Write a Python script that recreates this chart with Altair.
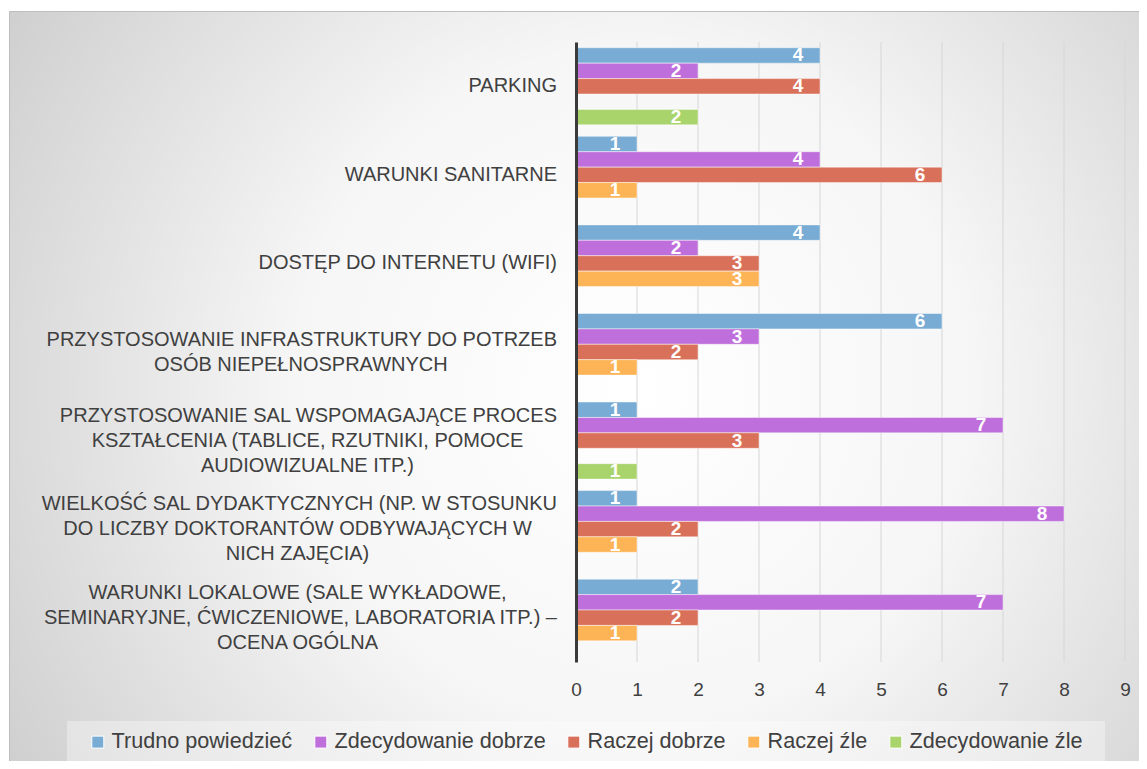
import altair as alt
import pandas as pd

FONT = "Liberation Sans"

categories = [
    "PARKING",
    "WARUNKI SANITARNE",
    "DOSTĘP DO INTERNETU (WIFI)",
    "PRZYSTOSOWANIE INFRASTRUKTURY DO POTRZEB|OSÓB NIEPEŁNOSPRAWNYCH",
    "PRZYSTOSOWANIE SAL WSPOMAGAJĄCE PROCES|KSZTAŁCENIA (TABLICE, RZUTNIKI, POMOCE|AUDIOWIZUALNE ITP.)",
    "WIELKOŚĆ SAL DYDAKTYCZNYCH (NP. W STOSUNKU|DO LICZBY DOKTORANTÓW ODBYWAJĄCYCH W|NICH ZAJĘCIA)",
    "WARUNKI LOKALOWE (SALE WYKŁADOWE,|SEMINARYJNE, ĆWICZENIOWE, LABORATORIA ITP.) –|OCENA OGÓLNA",
]
series = ["Trudno powiedzieć", "Zdecydowanie dobrze", "Raczej dobrze", "Raczej źle", "Zdecydowanie źle"]
colors = ["#78acd4", "#bf6fdb", "#d9705a", "#fdb456", "#a9d46b"]

trudno_powiedziec = [4, 1, 4, 6, 1, 1, 2]
zdecydowanie_dobrze = [2, 4, 2, 3, 7, 8, 7]
raczej_dobrze = [4, 6, 3, 2, 3, 2, 2]
raczej_zle = [None, 1, 3, 1, None, 1, 1]
zdecydowanie_zle = [2, None, None, None, 1, None, None]

x_ticks = [0, 1, 2, 3, 4, 5, 6, 7, 8, 9]
grid_ticks = [1, 2, 3, 4, 5, 6, 7, 8, 9]

rows = []
for s, vals in zip(series, [trudno_powiedziec, zdecydowanie_dobrze, raczej_dobrze, raczej_zle, zdecydowanie_zle]):
    for c, v in zip(categories, vals):
        if v:
            rows.append({"cat": c, "series": s, "value": v})
df = pd.DataFrame(rows)

# approximate text widths (Arial/Liberation Sans metrics) for centering multi-line labels
W = {"A": 667, "B": 667, "C": 722, "D": 722, "E": 667, "F": 611, "G": 778, "H": 722, "I": 278,
     "J": 500, "K": 667, "L": 556, "M": 833, "N": 722, "O": 778, "P": 667, "Q": 778, "R": 722,
     "S": 667, "T": 611, "U": 722, "V": 667, "W": 944, "X": 667, "Y": 667, "Z": 611, " ": 278,
     ",": 278, ".": 278, "(": 333, ")": 333, "–": 556,
     "Ą": 667, "Ę": 667, "Ł": 556, "Ó": 778, "Ś": 667, "Ć": 722, "Ż": 611, "Ź": 611, "Ń": 722}
LABEL_SIZE = 20
LINE_H = 25


def tw(t):
    return sum(W.get(ch, 600) for ch in t) * LABEL_SIZE / 1000.0


lab_rows = []
for c in categories:
    lines = c.split("|")
    n = len(lines)
    widths = [tw(l) for l in lines]
    wmax = max(widths)
    for i, l in enumerate(lines):
        longest = widths[i] == wmax
        lab_rows.append({
            "cat": c, "line": l,
            "al": "right" if longest else "center",
            "dxoff": 0 if longest else -wmax / 2.0,
            "dyoff": (i - (n - 1) / 2.0) * LINE_H,
        })
lab_df = pd.DataFrame(lab_rows)

PW, PH = 549, 620
PAD = {"left": 568, "top": 34, "right": 14, "bottom": 99}

y_enc = alt.Y("cat:N", sort=categories,
              scale=alt.Scale(paddingInner=0.13, paddingOuter=0.065),
              axis=alt.Axis(labels=False, ticks=False, domain=True, domainColor="#3a3a3a",
                            domainWidth=3, title=None, grid=False, zindex=1))
x_enc = alt.X("value:Q", scale=alt.Scale(domain=[0, 9], nice=False),
              axis=alt.Axis(values=x_ticks, format="d", grid=False, domain=False, ticks=False,
                            labelFontSize=19, labelFont=FONT, labelColor="#404040",
                            labelFlush=False, labelPadding=18, title=None, zindex=1))

bg = alt.Chart(pd.DataFrame({"a": [0]})).mark_rect(
    clip=False,
    fill={"gradient": "radial", "x1": 0.55, "y1": 0.5, "r1": 0, "x2": 0.55, "y2": 0.5, "r2": 0.75,
          "stops": [{"offset": 0, "color": "#ffffff"}, {"offset": 0.4, "color": "#f6f6f6"},
                    {"offset": 1, "color": "#c3c3c3"}]},
    stroke="#bdbdbd", strokeWidth=1,
).encode(
    x=alt.value(-566.5), x2=alt.value(PW + PAD["right"] + 5),
    y=alt.value(-30.5), y2=alt.value(PH + PAD["bottom"] + 5),
)

legend_box = alt.Chart(pd.DataFrame({"a": [0]})).mark_rect(
    clip=False, fill="white", fillOpacity=0.35,
).encode(
    x=alt.value(-509), x2=alt.value(529),
    y=alt.value(679), y2=alt.value(721),
)

grid = alt.Chart(pd.DataFrame({"t": grid_ticks})).mark_rule(color="#d6d6d6", strokeWidth=1).encode(
    x=alt.X("t:Q", scale=alt.Scale(domain=[0, 9], nice=False)),
    y=alt.value(0), y2=alt.value(PH),
)

bars = alt.Chart(df).mark_bar(stroke="white", strokeOpacity=0.45, strokeWidth=1).encode(
    y=y_enc,
    yOffset=alt.YOffset("series:N", sort=series, scale=alt.Scale(paddingInner=0, paddingOuter=0)),
    x=x_enc,
    color=alt.Color("series:N", scale=alt.Scale(domain=series, range=colors),
                    legend=alt.Legend(orient="none", legendX=-489, legendY=689, direction="horizontal",
                                      columns=5, title=None, symbolType="square", symbolSize=144,
                                      symbolStrokeWidth=1, symbolStrokeColor="#ffffff",
                                      labelFontSize=21.6, labelFont=FONT,
                                      labelColor="#404040", columnPadding=17, labelOffset=3,
                                      labelLimit=400, padding=0, zindex=1)),
)

vals = alt.Chart(df).mark_text(color="white", fontWeight="bold", fontSize=19, font=FONT,
                               align="center", baseline="middle", dx=-22).encode(
    y=alt.Y("cat:N", sort=categories),
    yOffset=alt.YOffset("series:N", sort=series),
    x=alt.X("value:Q"),
    text=alt.Text("value:Q"),
)

cat_labels = alt.Chart(lab_df).mark_text(
    font=FONT, fontSize=LABEL_SIZE, color="#404040", baseline="middle",
    align=alt.expr("datum.al"), dx=alt.expr("datum.dxoff"), dy=alt.expr("datum.dyoff"),
).encode(
    x=alt.value(-19),
    y=alt.Y("cat:N", sort=categories),
    text="line:N",
)

chart = alt.layer(bg, legend_box, grid, bars, vals, cat_labels).properties(
    width=PW, height=PH,
    autosize=alt.AutoSizeParams(type="none"),
    padding=PAD,
).configure_view(stroke=None)

chart.save("out.html", embed_options={"renderer": "svg", "actions": False})
